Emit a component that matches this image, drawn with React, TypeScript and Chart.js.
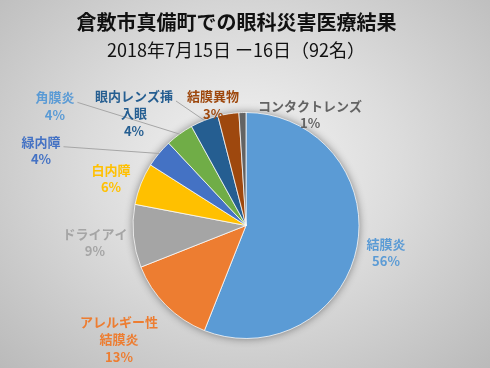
import { useEffect, useRef } from 'react';
import { Chart, registerables } from 'chart.js';

Chart.register(...registerables);

const TITLE = '倉敷市真備町での眼科災害医療結果';
const SUBTITLE = '2018年7月15日 ー16日（92名）';

const categories = [
  '結膜炎',
  'アレルギー性\n結膜炎',
  'ドライアイ',
  '白内障',
  '緑内障',
  '角膜炎',
  '眼内レンズ挿\n入眼',
  '結膜異物',
  'コンタクトレンズ',
];
const percentages = [56, 13, 9, 6, 4, 4, 4, 3, 1];

const sliceColors = ['#5B9BD5', '#ED7D31', '#A5A5A5', '#FFC000', '#4472C4', '#70AD47', '#255E91', '#9E480E', '#636363'];
const labelColors = ['#5B9BD5', '#ED7D31', '#A5A5A5', '#FFC000', '#4472C4', '#5B9BD5', '#255E91', '#9E480E', '#636363'];

// label placement: polar angle (deg, clockwise from 3 o'clock) and distance in pie radii
const labelAngles = [10.9, 138.1, 173.6, 199.2, 200.1, 212.0, 225.0, 254.7, 300.0];
const labelDistances = [1.262, 1.51, 1.345, 1.265, 1.932, 1.994, 1.402, 1.105, 1.134];
const labelLeaders = [false, false, false, false, true, true, true, false, false];

const FONT = '"Noto Sans CJK JP", "Noto Sans", sans-serif';

const shadowPlugin = {
  id: 'pieShadow',
  beforeDatasetsDraw(chart: any) {
    const meta = chart.getDatasetMeta(0);
    const arc = meta.data[0];
    if (!arc) return;
    const { x, y, outerRadius } = arc.getProps(['x', 'y', 'outerRadius'], true);
    const ctx = chart.ctx;
    ctx.save();
    ctx.shadowColor = 'rgba(0,0,0,0.45)';
    ctx.shadowBlur = 9;
    ctx.beginPath();
    ctx.arc(x, y, outerRadius, 0, Math.PI * 2);
    ctx.fillStyle = '#999';
    ctx.fill();
    ctx.restore();
  },
};

const titlePlugin = {
  id: 'titleBlock',
  afterDraw(chart: any) {
    const ctx = chart.ctx;
    ctx.save();
    ctx.textAlign = 'center';
    ctx.textBaseline = 'middle';
    ctx.fillStyle = '#111';
    ctx.font = `bold 20px ${FONT}`;
    ctx.fillText(TITLE, 236.5, 22);
    ctx.font = `18px ${FONT}`;
    ctx.fillText(SUBTITLE, 236, 50);
    ctx.restore();
  },
};

const labelPlugin = {
  id: 'sliceLabels',
  afterDatasetsDraw(chart: any) {
    const meta = chart.getDatasetMeta(0);
    const ctx = chart.ctx;
    const lh = 17.5;
    const blocks: any[] = [];
    meta.data.forEach((arc: any, i: number) => {
      const { x, y, startAngle, endAngle, outerRadius } = arc.getProps(
        ['x', 'y', 'startAngle', 'endAngle', 'outerRadius'],
        true
      );
      const a = (labelAngles[i] * Math.PI) / 180;
      const cx = x + Math.cos(a) * outerRadius * labelDistances[i];
      const cy = y + Math.sin(a) * outerRadius * labelDistances[i];
      const lines = [...categories[i].split('\n'), `${percentages[i]}%`];
      const top = cy - ((lines.length - 1) * lh) / 2;
      const mid = (startAngle + endAngle) / 2;
      blocks.push({ i, cx, top, lines, ex: x + Math.cos(mid) * outerRadius, ey: y + Math.sin(mid) * outerRadius });
    });
    ctx.save();
    ctx.font = `bold 13px ${FONT}`;
    ctx.strokeStyle = '#A6A6A6';
    ctx.lineWidth = 1;
    blocks.forEach((b) => {
      if (!labelLeaders[b.i]) return;
      const w = ctx.measureText(b.lines[0]).width;
      ctx.beginPath();
      ctx.moveTo(b.cx + w / 2 + 3, b.top + 5);
      ctx.lineTo(b.ex, b.ey);
      ctx.stroke();
    });
    ctx.textAlign = 'center';
    ctx.textBaseline = 'middle';
    blocks.forEach((b) => {
      ctx.fillStyle = labelColors[b.i];
      b.lines.forEach((t: string, k: number) => ctx.fillText(t, b.cx, b.top + k * lh));
    });
    ctx.restore();
  },
};

export default function App() {
  const ref = useRef<HTMLCanvasElement>(null);
  useEffect(() => {
    document.body.style.margin = '0';
    const chart = new Chart(ref.current as HTMLCanvasElement, {
      type: 'pie',
      data: {
        labels: categories,
        datasets: [
          {
            data: percentages,
            backgroundColor: sliceColors,
            borderColor: 'rgba(255,255,255,0.75)',
            borderWidth: 1,
            hoverOffset: 0,
          },
        ],
      },
      options: {
        responsive: false,
        animation: false,
        layout: { padding: { top: 112, bottom: 29, left: 2, right: 0 } },
        plugins: {
          legend: { display: false },
          tooltip: { enabled: false },
          title: { display: false },
        },
      },
      plugins: [shadowPlugin, labelPlugin, titlePlugin],
    });
    return () => chart.destroy();
  }, []);
  return (
    <div
      style={{
        position: 'fixed',
        left: 0,
        top: 0,
        width: 490,
        height: 368,
        background: 'radial-gradient(ellipse farthest-corner at 50% 45%, #f4f4f4 0%, #dcdcdc 45%, #bababa 100%)',
      }}
    >
      <canvas ref={ref} width={490} height={368} style={{ display: 'block' }} />
    </div>
  );
}
